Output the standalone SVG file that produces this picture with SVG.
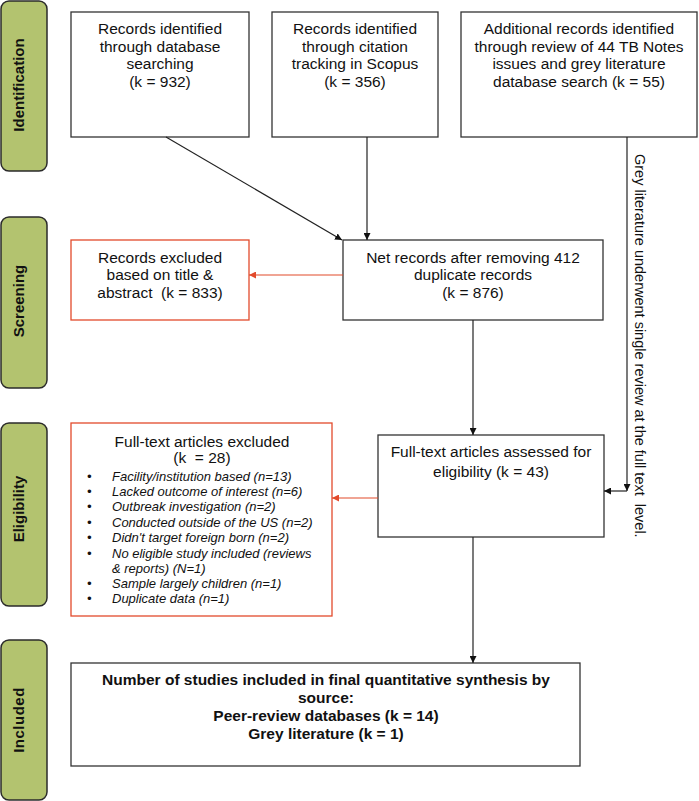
<svg xmlns="http://www.w3.org/2000/svg" width="699" height="801" viewBox="0 0 699 801">
<style>
.stage{fill:#b3c36f;stroke:#2b2b2b;stroke-width:1.5}
.stxt{font-family:"Liberation Sans",Arial,sans-serif;font-weight:bold;font-size:15px;fill:#111;text-anchor:middle}
.box{fill:#fff;stroke:#333;stroke-width:1.3}
.rbox{fill:#fff;stroke:#e24a2b;stroke-width:1.3}
.t{font-family:"Liberation Sans",Arial,sans-serif;font-size:15.5px;fill:#111;text-anchor:middle;white-space:pre}
.it{font-family:"Liberation Sans",Arial,sans-serif;font-size:13px;font-style:italic;fill:#111}
.b{font-family:"Liberation Sans",Arial,sans-serif;font-size:15.5px;font-weight:bold;fill:#111;text-anchor:middle}
.ln{fill:none;stroke:#222;stroke-width:1.2}
.rln{fill:none;stroke:#e24a2b;stroke-width:1.2}
</style>
<defs>
<marker id="ah" viewBox="0 0 10 10" refX="10" refY="5" markerWidth="7" markerHeight="7" markerUnits="userSpaceOnUse" orient="auto">
<path d="M0,0 L10,5 L0,10 Z" fill="#111"/>
</marker>
<marker id="rah" viewBox="0 0 10 10" refX="10" refY="5" markerWidth="7" markerHeight="7" markerUnits="userSpaceOnUse" orient="auto">
<path d="M0,0 L10,5 L0,10 Z" fill="#e24a2b"/>
</marker>
</defs>
<rect width="699" height="801" fill="#fff"/>

<g id="stage-identification">
<rect class="stage" x="1" y="1" width="46" height="170" rx="8"/>
<text class="stxt" transform="translate(24,85) rotate(-90)">Identification</text>
</g>
<g id="stage-screening">
<rect class="stage" x="1" y="217" width="46" height="171" rx="8"/>
<text class="stxt" transform="translate(24,301) rotate(-90)">Screening</text>
</g>
<g id="stage-eligibility">
<rect class="stage" x="1" y="423" width="46" height="183" rx="8"/>
<text class="stxt" transform="translate(24,509) rotate(-90)">Eligibility</text>
</g>
<g id="stage-included">
<rect class="stage" x="1" y="640" width="46" height="160" rx="8"/>
<text class="stxt" transform="translate(24,720) rotate(-90)" letter-spacing="0.5">Included</text>
</g>

<g id="box-database">
<rect class="box" x="71" y="12" width="178" height="125"/>
<text class="t" x="160" y="34">Records identified</text>
<text class="t" x="160" y="51.5">through database</text>
<text class="t" x="160" y="69">searching</text>
<text class="t" x="160" y="86.5">(k = 932)</text>
</g>
<g id="box-citation">
<rect class="box" x="272" y="12" width="166" height="125"/>
<text class="t" x="355" y="34">Records identified</text>
<text class="t" x="355" y="51.5">through citation</text>
<text class="t" x="355" y="69">tracking in Scopus</text>
<text class="t" x="355" y="86.5">(k = 356)</text>
</g>
<g id="box-additional">
<rect class="box" x="461" y="12" width="236" height="125"/>
<text class="t" x="579" y="34">Additional records identified</text>
<text class="t" x="579" y="51.5">through review of 44 TB Notes</text>
<text class="t" x="579" y="69">issues and grey literature</text>
<text class="t" x="579" y="86.5">database search (k = 55)</text>
</g>

<g id="box-excluded-title">
<rect class="rbox" x="71" y="240" width="178" height="80"/>
<text class="t" x="160" y="263">Records excluded</text>
<text class="t" x="160" y="280">based on title &amp;</text>
<text class="t" x="160" y="298">abstract  (k = 833)</text>
</g>
<g id="box-net">
<rect class="box" x="343" y="240" width="260" height="80"/>
<text class="t" x="473" y="263">Net records after removing 412</text>
<text class="t" x="473" y="280">duplicate records</text>
<text class="t" x="473" y="298">(k = 876)</text>
</g>

<g id="box-fulltext-excluded">
<rect class="rbox" x="71" y="423" width="261" height="193"/>
<text class="t" x="202" y="447">Full-text articles excluded</text>
<text class="t" x="202" y="463">(k  = 28)</text>
<g class="it">
<text x="87" y="481">•</text><text x="112" y="481">Facility/institution based (n=13)</text>
<text x="87" y="496">•</text><text x="112" y="496">Lacked outcome of interest (n=6)</text>
<text x="87" y="511">•</text><text x="112" y="511">Outbreak investigation (n=2)</text>
<text x="87" y="527">•</text><text x="112" y="527">Conducted outside of the US (n=2)</text>
<text x="87" y="542">•</text><text x="112" y="542">Didn't target foreign born (n=2)</text>
<text x="87" y="558">•</text><text x="112" y="558">No eligible study included (reviews</text>
<text x="112" y="573">&amp; reports) (N=1)</text>
<text x="87" y="588">•</text><text x="112" y="588">Sample largely children (n=1)</text>
<text x="87" y="603">•</text><text x="112" y="603">Duplicate data (n=1)</text>
</g>
</g>
<g id="box-fulltext-assessed">
<rect class="box" x="378" y="435" width="226" height="102"/>
<text class="t" x="491" y="457">Full-text articles assessed for</text>
<text class="t" x="491" y="477">eligibility (k = 43)</text>
</g>

<g id="box-included">
<rect class="box" x="71" y="663" width="509" height="103"/>
<text class="b" x="326" y="685">Number of studies included in final quantitative synthesis by</text>
<text class="b" x="326" y="703">source:</text>
<text class="b" x="326" y="721">Peer-review databases (k = 14)</text>
<text class="b" x="326" y="739">Grey literature (k = 1)</text>
</g>

<g id="connectors">
<line class="ln" x1="166" y1="137" x2="342" y2="240" marker-end="url(#ah)"/>
<line class="ln" x1="367" y1="137" x2="367" y2="240" marker-end="url(#ah)"/>
<line class="rln" x1="343" y1="275" x2="249" y2="275" marker-end="url(#rah)"/>
<line class="ln" x1="473" y1="320" x2="473" y2="435" marker-end="url(#ah)"/>
<line class="rln" x1="378" y1="498" x2="332" y2="498" marker-end="url(#rah)"/>
<line class="ln" x1="473" y1="537" x2="473" y2="663" marker-end="url(#ah)"/>
<line class="ln" x1="627" y1="137" x2="627" y2="491" marker-end="url(#ah)"/>
<line class="ln" x1="627" y1="491" x2="604" y2="491" marker-end="url(#ah)"/>
<text class="t" style="text-anchor:start;font-size:14.5px" transform="translate(635,154) rotate(90)">Grey literature underwent single review at the full text  level.</text>
</g>
</svg>
